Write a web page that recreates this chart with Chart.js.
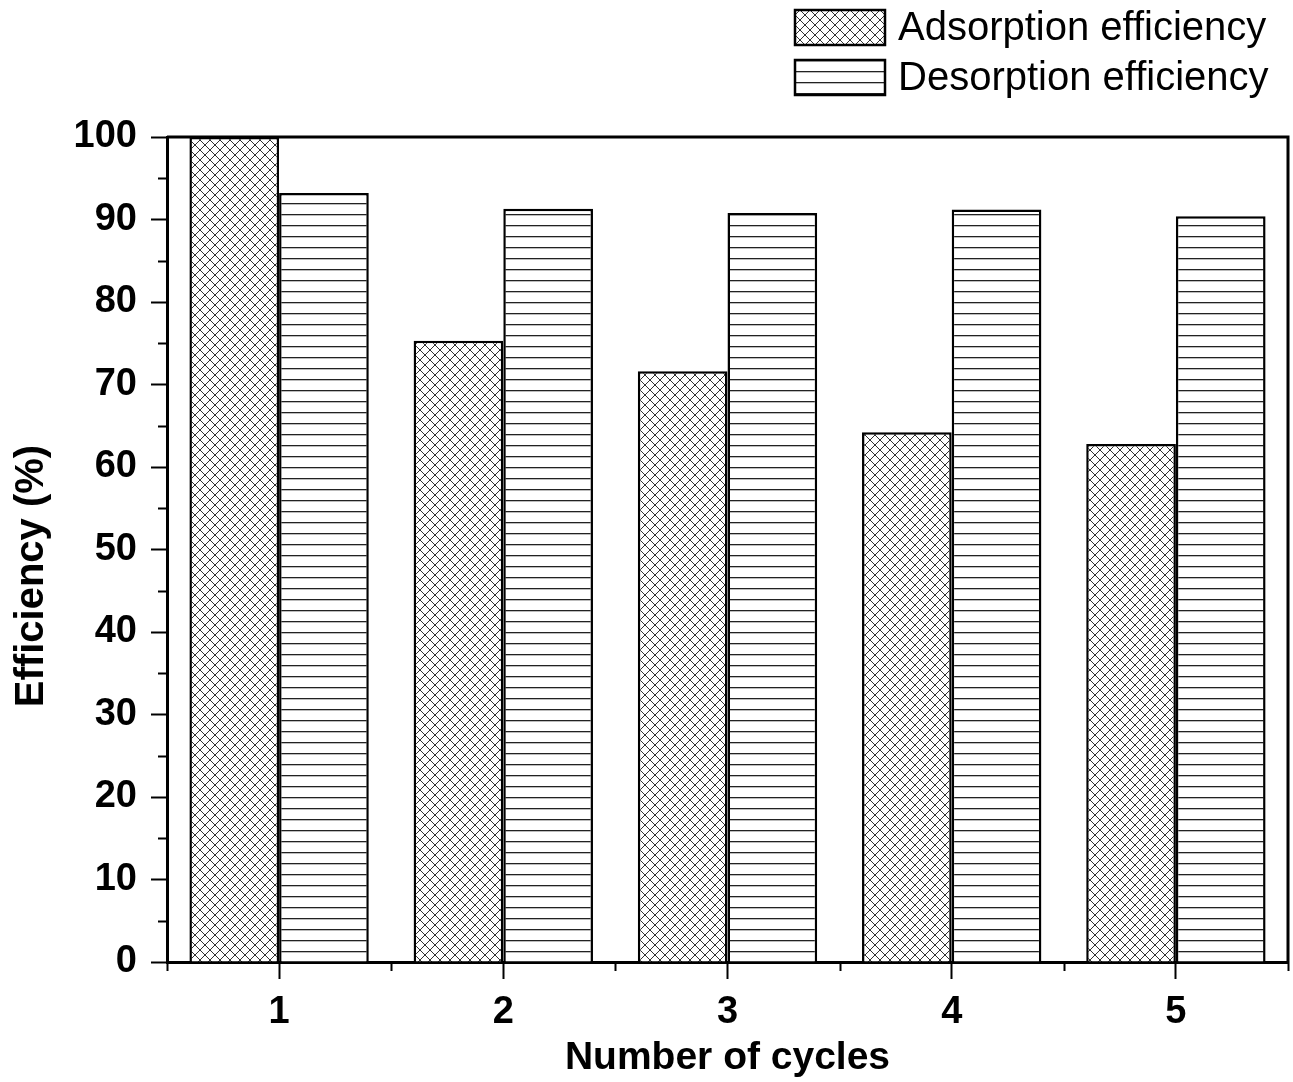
<!DOCTYPE html>
<html>
<head>
<meta charset="utf-8">
<script src="https://cdn.jsdelivr.net/npm/chart.js@4/dist/chart.umd.min.js"></script>
<style>
  html, body { margin: 0; padding: 0; background: #fff; }
  #wrap { width: 1293px; height: 1082px; position: relative; }
</style>
</head>
<body>
<div id="wrap"><canvas id="grafico"></canvas></div>
<script>
// datos
const ciclos = ["1", "2", "3", "4", "5"];
const adsorcion = [100, 75.3, 71.6, 64.2, 62.8];
const desorcion = [93.2, 91.3, 90.8, 91.2, 90.4];
const ticksY = [0, 10, 20, 30, 40, 50, 60, 70, 80, 90, 100];
const tituloY = "Efficiency (%)";

const FUENTE = "'Liberation Sans', Arial, sans-serif";

// tramas de relleno
function tramaCruzada() {
  const c = document.createElement("canvas");
  c.width = 10;
  c.height = 10;
  const g = c.getContext("2d");
  g.fillStyle = "#fff";
  g.fillRect(0, 0, 10, 10);
  g.strokeStyle = "#333";
  g.lineWidth = 1;
  g.beginPath();
  g.moveTo(0, 0); g.lineTo(10, 10);
  g.moveTo(0, 10); g.lineTo(10, 0);
  g.stroke();
  return g.createPattern(c, "repeat");
}

function tramaHorizontal() {
  const c = document.createElement("canvas");
  c.width = 4;
  c.height = 11;
  const g = c.getContext("2d");
  g.fillStyle = "#fff";
  g.fillRect(0, 0, 4, 11);
  g.fillStyle = "#222";
  g.fillRect(0, 5, 4, 1.3);
  return g.createPattern(c, "repeat");
}

const rellenoAds = tramaCruzada();
const rellenoDes = tramaHorizontal();

// marcas menores, marco, titulo y y leyenda
const extras = {
  id: "extras",
  afterDraw(chart) {
    const { ctx, chartArea, scales } = chart;
    const x = scales.x, y = scales.y;
    ctx.save();
    ctx.strokeStyle = "#000";
    ctx.lineWidth = 3;
    // marco superior y derecho
    ctx.beginPath();
    ctx.moveTo(chartArea.left, chartArea.top);
    ctx.lineTo(chartArea.right, chartArea.top);
    ctx.lineTo(chartArea.right, chartArea.bottom);
    ctx.stroke();
    // marcas menores en y
    ctx.lineWidth = 2;
    ctx.beginPath();
    for (let i = 0; i < ticksY.length - 1; i++) {
      const v = (ticksY[i] + ticksY[i + 1]) / 2;
      const py = Math.round(y.getPixelForValue(v)) + 0.5;
      ctx.moveTo(chartArea.left, py);
      ctx.lineTo(chartArea.left - 9, py);
    }
    // marcas menores en x (entre categorias)
    const paso = x.getPixelForValue(1) - x.getPixelForValue(0);
    for (let i = 0; i <= ciclos.length; i++) {
      const px = Math.round(x.getPixelForValue(i) - paso / 2) + 0.5;
      ctx.moveTo(px, chartArea.bottom);
      ctx.lineTo(px, chartArea.bottom + 9);
    }
    ctx.stroke();

    // titulo del eje y
    ctx.save();
    ctx.translate(32, 576);
    ctx.rotate(-Math.PI / 2);
    ctx.font = "bold 40px " + FUENTE;
    ctx.textAlign = "center";
    ctx.textBaseline = "middle";
    ctx.fillStyle = "#000";
    ctx.fillText(tituloY, 0, 0);
    ctx.restore();

    // leyenda
    const items = chart.data.datasets;
    ctx.font = "40px " + FUENTE;
    ctx.textBaseline = "middle";
    ctx.textAlign = "left";
    items.forEach((ds, i) => {
      const bx = 795, by = 10 + i * 50, bw = 90, bh = 35;
      ctx.fillStyle = ds.backgroundColor;
      ctx.fillRect(bx, by, bw, bh);
      ctx.lineWidth = 2.5;
      ctx.strokeStyle = "#000";
      ctx.strokeRect(bx, by, bw, bh);
      ctx.fillStyle = "#000";
      ctx.fillText(ds.label, 898, by + bh / 2 + 1);
    });
    ctx.restore();
  },
};

const ctx = document.getElementById("grafico").getContext("2d");

new Chart(ctx, {
  type: "bar",
  data: {
    labels: ciclos,
    datasets: [
      {
        label: "Adsorption efficiency",
        data: adsorcion,
        backgroundColor: rellenoAds,
        borderColor: "#000",
        borderWidth: 2.5,
        borderSkipped: "bottom",
      },
      {
        label: "Desorption efficiency",
        data: desorcion,
        backgroundColor: rellenoDes,
        borderColor: "#000",
        borderWidth: 2.5,
        borderSkipped: "bottom",
      },
    ],
  },
  options: {
    responsive: true,
    maintainAspectRatio: false,
    animation: false,
    layout: { padding: { top: 137, right: 5, left: 0, bottom: 0 } },
    datasets: {
      bar: { categoryPercentage: 0.8, barPercentage: 1.0 },
    },
    plugins: {
      legend: { display: false },
      tooltip: { enabled: false },
    },
    scales: {
      x: {
        afterFit(scale) { scale.height = 120; },
        grid: {
          offset: false,
          drawOnChartArea: false,
          tickLength: 17,
          tickWidth: 2,
          tickColor: "#000",
        },
        border: { color: "#000", width: 3 },
        ticks: {
          color: "#000",
          padding: 11,
          font: { family: FUENTE, size: 38, weight: "bold" },
        },
        title: {
          display: true,
          text: "Number of cycles",
          color: "#000",
          padding: { top: 2, bottom: 0 },
          font: { family: FUENTE, size: 39, weight: "bold", lineHeight: 1.2 },
        },
      },
      y: {
        min: 0,
        max: 100,
        afterFit(scale) { scale.width = 167; },
        afterBuildTicks(scale) {
          scale.ticks = ticksY.map((v) => ({ value: v }));
        },
        grid: {
          drawOnChartArea: false,
          tickLength: 16,
          tickWidth: 2,
          tickColor: "#000",
        },
        border: { color: "#000", width: 3 },
        ticks: {
          color: "#000",
          padding: 14,
          font: { family: FUENTE, size: 38, weight: "bold" },
        },
      },
    },
  },
  plugins: [extras],
});
</script>
</body>
</html>
